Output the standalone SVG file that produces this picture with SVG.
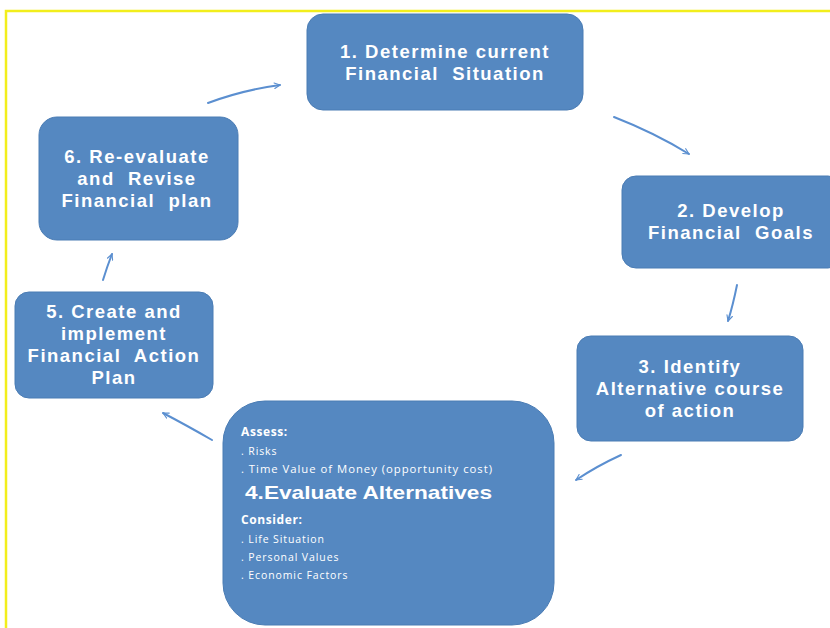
<svg xmlns="http://www.w3.org/2000/svg" width="830" height="628" viewBox="0 0 830 628">
<defs>
<style>
.box{fill:#5588c1;stroke:#4a7cb4;stroke-width:1}
.t{font-family:"Liberation Sans",Arial,sans-serif;font-weight:bold;fill:#ffffff;text-anchor:middle;font-size:18.5px;letter-spacing:1.5px;white-space:pre}
.s{font-family:"Open Sans","Liberation Sans",sans-serif;fill:#ffffff;font-size:10.5px;letter-spacing:0.9px}
.sb{font-family:"Open Sans","Liberation Sans",sans-serif;font-weight:bold;fill:#ffffff;font-size:12px;letter-spacing:0.6px}
.c{fill:none;stroke:#5b8fd0;stroke-width:2;stroke-linecap:round}
</style>
<marker id="ah" viewBox="0 0 10 10" refX="9" refY="5" markerWidth="7" markerHeight="7" orient="auto" markerUnits="userSpaceOnUse">
<path d="M1,1 L9,5 L1,9" fill="none" stroke="#5b8fd0" stroke-width="1.6" stroke-linecap="round" stroke-linejoin="round"/>
</marker>
</defs>
<rect width="830" height="628" fill="#ffffff"/>
<path d="M6,628 L6,11 L830,11" fill="none" stroke="#f2ee1c" stroke-width="2.5"/>
<g id="connectors">
<path class="c" d="M614,117 Q655,133 689,154" marker-end="url(#ah)"/>
<path class="c" d="M737,285 Q733,305 728,321" marker-end="url(#ah)"/>
<path class="c" d="M621,455 Q597,466 576,480" marker-end="url(#ah)"/>
<path class="c" d="M212,440 Q186,425 163,413" marker-end="url(#ah)"/>
<path class="c" d="M103,280 Q107,267 112,254" marker-end="url(#ah)"/>
<path class="c" d="M208,103 Q243,90 280,85" marker-end="url(#ah)"/>
</g>
<g id="node1">
<rect class="box" x="307" y="14" width="276" height="96" rx="16"/>
<text class="t" x="445" y="58">1. Determine current</text>
<text class="t" x="445" y="80">Financial  Situation</text>
</g>
<g id="node2">
<rect class="box" x="622" y="176" width="220" height="92" rx="14"/>
<text class="t" x="731" y="217">2. Develop</text>
<text class="t" x="731" y="239">Financial  Goals</text>
</g>
<g id="node3">
<rect class="box" x="577" y="336" width="226" height="105" rx="14"/>
<text class="t" x="690" y="373">3. Identify</text>
<text class="t" x="690" y="395">Alternative course</text>
<text class="t" x="690" y="417">of action</text>
</g>
<g id="node4">
<rect class="box" x="223" y="401" width="331" height="224" rx="42"/>
<text class="sb" x="241" y="436">Assess:</text>
<text class="s" x="241" y="455">. Risks</text>
<text class="s" x="241" y="473" textLength="252" lengthAdjust="spacingAndGlyphs">. Time Value of Money (opportunity cost)</text>
<text class="t" x="245" y="499" style="text-anchor:start;font-size:19px;letter-spacing:0" textLength="247" lengthAdjust="spacingAndGlyphs">4.Evaluate Alternatives</text>
<text class="sb" x="241" y="524">Consider:</text>
<text class="s" x="241" y="543">. Life Situation</text>
<text class="s" x="241" y="561">. Personal Values</text>
<text class="s" x="241" y="579">. Economic Factors</text>
</g>
<g id="node5">
<rect class="box" x="15" y="292" width="198" height="106" rx="14"/>
<text class="t" x="114" y="318">5. Create and</text>
<text class="t" x="114" y="340">implement</text>
<text class="t" x="114" y="362">Financial  Action</text>
<text class="t" x="114" y="384">Plan</text>
</g>
<g id="node6">
<rect class="box" x="39" y="117" width="199" height="123" rx="18"/>
<text class="t" x="137" y="163">6. Re-evaluate</text>
<text class="t" x="137" y="185">and  Revise</text>
<text class="t" x="137" y="207">Financial  plan</text>
</g>
</svg>
